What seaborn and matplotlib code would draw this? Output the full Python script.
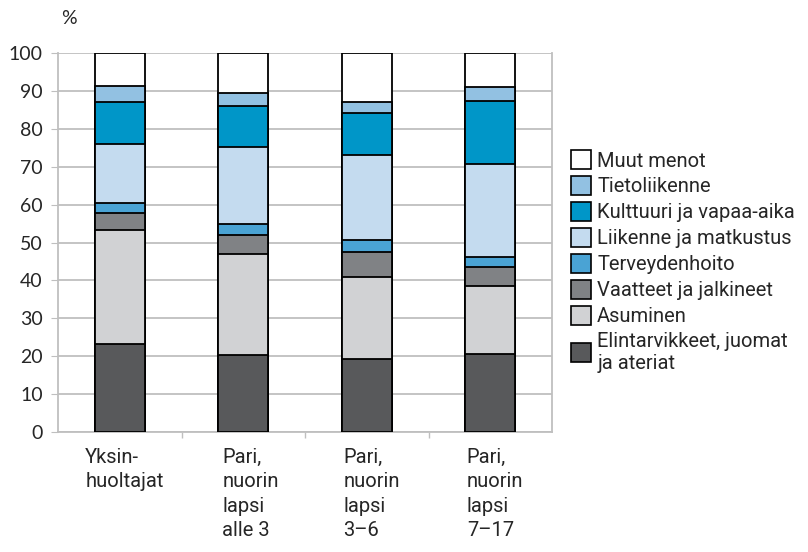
import pandas as pd
import numpy as np
import matplotlib.pyplot as plt
import seaborn as sns
from matplotlib.patches import Patch

# Kulutusmenojen rakenne kotitaloustyypeittäin (%)
ryhmat = ['Yksin-\nhuoltajat', 'Pari,\nnuorin\nlapsi\nalle 3', 'Pari,\nnuorin\nlapsi\n3\u20136', 'Pari,\nnuorin\nlapsi\n7\u201317']

elintarvikkeet = [23.1, 20.2, 19.3, 20.6]
asuminen = [30.2, 26.7, 21.7, 18.0]
vaatteet = [4.4, 5.2, 6.5, 5.0]
terveys = [2.6, 2.8, 3.1, 2.7]
liikenne = [15.6, 20.4, 22.6, 24.4]
kulttuuri = [11.1, 10.8, 10.9, 16.6]
tietoliikenne = [4.4, 3.3, 2.9, 3.6]
muut = [8.6, 10.6, 13.0, 9.1]

nimet = ['Elintarvikkeet, juomat\nja ateriat', 'Asuminen', 'Vaatteet ja jalkineet',
         'Terveydenhoito', 'Liikenne ja matkustus', 'Kulttuuri ja vapaa-aika',
         'Tietoliikenne', 'Muut menot']
varit = ['#58595b', '#d1d2d4', '#808285', '#4aa3d4', '#c4dbef', '#0096c8', '#92c1e2', '#ffffff']

df = pd.DataFrame({
    'ryhma': ryhmat,
    nimet[0]: elintarvikkeet,
    nimet[1]: asuminen,
    nimet[2]: vaatteet,
    nimet[3]: terveys,
    nimet[4]: liikenne,
    nimet[5]: kulttuuri,
    nimet[6]: tietoliikenne,
    nimet[7]: muut,
})
kum = df[nimet].cumsum(axis=1)
kum['ryhma'] = df['ryhma']

sns.set_style('white')
kapea = ['Roboto', 'DejaVu Sans']
plt.rcParams['font.family'] = ['Lato', 'DejaVu Sans']

fig = plt.figure(figsize=(8.08, 5.52), dpi=100)
ax = fig.add_axes([58 / 808, 1 - 432 / 552, (552 - 58) / 808, (432 - 53) / 552])

# pinotut palkit: piirretään kumulatiiviset summat ylhäältä alas
for nimi, vari in reversed(list(zip(nimet, varit))):
    sns.barplot(data=kum, x='ryhma', y=nimi, color=vari, saturation=1, width=0.405,
                edgecolor='black', linewidth=1.3, ax=ax, zorder=3)

ax.set_xlim(-0.5, 3.5)
ax.set_ylim(0, 100)
ax.set_yticks(range(0, 101, 10))
ax.yaxis.grid(True, color='#bfbfbf', linewidth=1.3, zorder=0)
ax.set_axisbelow(True)
for s in ax.spines.values():
    s.set_color('#bfbfbf')
    s.set_linewidth(1.3)
ax.spines['top'].set_visible(False)
ax.tick_params(axis='y', labelsize=14, length=5, color='#bfbfbf', left=True, pad=6)
ax.set_ylabel('')
ax.set_xlabel('')

# kategoriarajojen väkäset
ax.set_xticks([])
ax.set_xticks([0.5, 1.5, 2.5], minor=True)
ax.tick_params(axis='x', which='minor', length=4, color='#bfbfbf', bottom=True, width=1)

offs = [-0.28, -0.17, -0.19, -0.19]
for i, lab in enumerate(ryhmat):
    ax.text(i + offs[i], -4.2, lab, ha='left', va='top', fontsize=14.5,
            family=kapea, linespacing=1.36)

fig.text(61 / 808, 1 - 18 / 552, '%', fontsize=14, va='center', ha='left')

kahvat = [Patch(facecolor=v, edgecolor='black', linewidth=1.2) for v in varit]
ax.legend(reversed(kahvat), reversed(nimet), loc='upper left',
          bbox_to_anchor=(571 / 808, 1 - 150 / 552), bbox_transform=fig.transFigure,
          frameon=False, prop={'family': kapea, 'size': 14.5},
          handlelength=1.0, handleheight=1.1, handletextpad=0.3,
          labelspacing=0.27, borderaxespad=0, borderpad=0)

plt.savefig('out.png', dpi=100)
